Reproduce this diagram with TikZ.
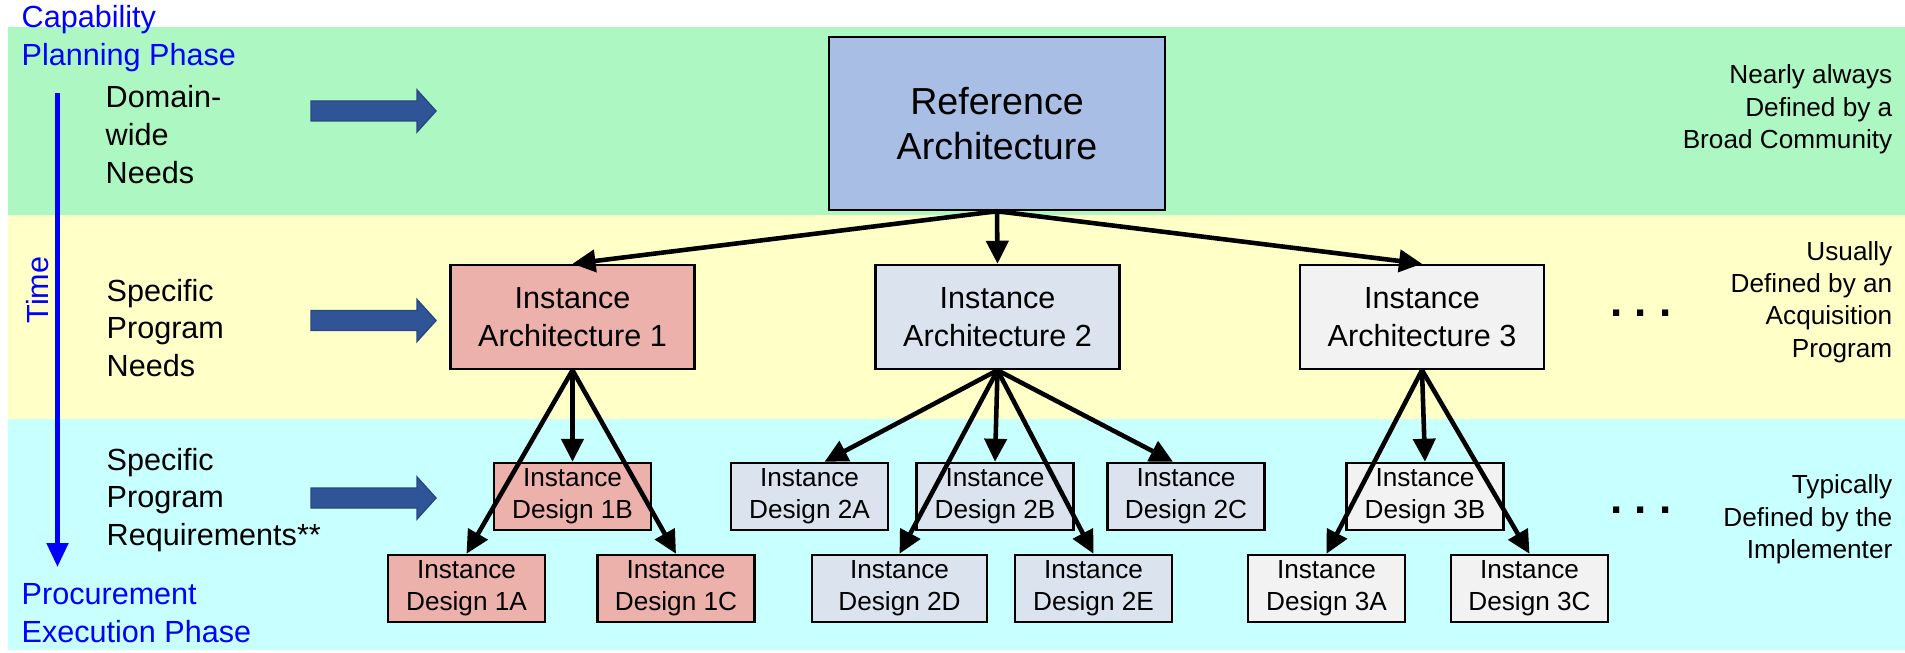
\documentclass[tikz,border=0pt]{standalone}
\usepackage{fontspec}
\setmainfont{Liberation Sans}
\usetikzlibrary{arrows.meta}

\definecolor{franjaverde}{RGB}{173,247,195}
\definecolor{franjaamarilla}{RGB}{255,255,200}
\definecolor{franjacian}{RGB}{200,255,255}
\definecolor{cajaref}{RGB}{169,190,228}
\definecolor{caja1}{RGB}{236,177,170}
\definecolor{caja2}{RGB}{218,227,238}
\definecolor{caja3}{RGB}{242,242,242}
\definecolor{flechaazul}{RGB}{47,85,151}

\begin{document}
\begin{tikzpicture}[
    caja/.style={draw=black, line width=0.7pt, inner sep=0pt, align=center},
    arq/.style={caja, minimum width=2.44cm, minimum height=1.04cm, font=\fontsize{8.7}{10.8}\selectfont},
    diseno/.style={caja, minimum width=1.57cm, minimum height=0.67cm, font=\fontsize{7.45}{9.1}\selectfont},
    flecha/.style={line width=1.3pt, -{Triangle[length=0.23cm, width=0.22cm]}},
    etiqueta/.style={anchor=west, align=left, inner sep=0pt, font=\fontsize{8.7}{10.7}\selectfont},
    nota/.style={anchor=east, align=right, inner sep=0pt, font=\fontsize{7.45}{9.2}\selectfont},
    puntos/.style={anchor=base, inner sep=0pt, font=\bfseries\fontsize{12.5}{14}\selectfont},
  ]
  \useasboundingbox (0,0) rectangle (19.05,6.52);

  % Franjas
  \fill[franjaverde] (0.08,4.37) rectangle (19.05,6.25);
  \fill[franjaamarilla] (0.08,2.33) rectangle (19.05,4.37);
  \fill[franjacian] (0.08,0.02) rectangle (19.05,2.33);

  % Fases y eje de tiempo
  \node[etiqueta, text=blue, font=\fontsize{8.7}{10.8}\selectfont] (planif) at (0.21,6.13) {Capability\\Planning Phase};
  \node[etiqueta, text=blue, font=\fontsize{8.7}{10.8}\selectfont] (ejec) at (0.21,0.385) {Procurement\\Execution Phase};
  \node[text=blue, rotate=90, inner sep=0pt, font=\fontsize{8.7}{10.8}\selectfont] (tiempo) at (0.38,3.62) {Time};
  \coordinate (tinicio) at (0.575,5.59);
  \coordinate (tfin) at (0.575,0.85);
  \draw[blue, line width=1.4pt, -{Triangle[length=0.24cm, width=0.21cm]}] (tinicio) -- (tfin);

  % Necesidades
  \node[etiqueta] (necdominio) at (1.05,5.175) {Domain-\\wide\\Needs};
  \node[etiqueta] (necprograma) at (1.06,3.24) {Specific\\Program\\Needs};
  \node[etiqueta] (reqprograma) at (1.06,1.52) {Specific\\Program\\Requirements**};

  % Flechas gruesas
  \foreach \y in {5.41,3.315,1.54}
    \filldraw[fill=flechaazul, draw=flechaazul!85!black, line width=0.4pt]
      (3.11,\y-0.10) -- (4.17,\y-0.10) -- (4.17,\y-0.21) -- (4.36,\y)
      -- (4.17,\y+0.21) -- (4.17,\y+0.10) -- (3.11,\y+0.10) -- cycle;

  % Arquitecturas
  \node[caja, fill=cajaref, minimum width=3.36cm, minimum height=1.73cm,
        font=\fontsize{10.7}{12.8}\selectfont] (ref) at (9.97,5.285) {Reference\\Architecture};
  \node[arq, fill=caja1] (ia1) at (5.725,3.35) {Instance\\Architecture 1};
  \node[arq, fill=caja2] (ia2) at (9.975,3.35) {Instance\\Architecture 2};
  \node[arq, fill=caja3] (ia3) at (14.22,3.35) {Instance\\Architecture 3};

  % Disenos
  \node[diseno, fill=caja1] (d1b) at (5.725,1.555) {Instance\\Design 1B};
  \node[diseno, fill=caja1] (d1a) at (4.665,0.635) {Instance\\Design 1A};
  \node[diseno, fill=caja1] (d1c) at (6.76,0.635) {Instance\\Design 1C};
  \node[diseno, fill=caja2] (d2a) at (8.095,1.555) {Instance\\Design 2A};
  \node[diseno, fill=caja2] (d2b) at (9.95,1.555) {Instance\\Design 2B};
  \node[diseno, fill=caja2] (d2c) at (11.86,1.555) {Instance\\Design 2C};
  \node[diseno, fill=caja2, minimum width=1.75cm] (d2d) at (8.995,0.635) {Instance\\Design 2D};
  \node[diseno, fill=caja2] (d2e) at (10.935,0.635) {Instance\\Design 2E};
  \node[diseno, fill=caja3] (d3b) at (14.25,1.555) {Instance\\Design 3B};
  \node[diseno, fill=caja3] (d3a) at (13.265,0.635) {Instance\\Design 3A};
  \node[diseno, fill=caja3] (d3c) at (15.295,0.635) {Instance\\Design 3C};

  % Conexiones
  \foreach \n in {1,2,3}
    \draw[flecha] (ref.south) -- (ia\n.north);
  \foreach \d in {a,b,c}
    \draw[flecha] (ia1.south) -- (d1\d.north);
  \draw[flecha] (ia2.south) -- ([xshift=0.15cm]d2a.north);
  \draw[flecha] (ia2.south) -- (d2b.north);
  \draw[flecha] (ia2.south) -- ([xshift=-0.13cm]d2c.north);
  \draw[flecha] (ia2.south) -- (d2d.north);
  \draw[flecha] (ia2.south) -- (d2e.north);
  \foreach \d in {a,b,c}
    \draw[flecha] (ia3.south) -- (d3\d.north);

  % Puntos suspensivos
  \node[puntos] (masarq) at (16.41,3.35) {.\ .\ .};
  \node[puntos] (masdis) at (16.41,1.39) {.\ .\ .};

  % Notas de la derecha
  \node[nota] (notaref) at (18.93,5.425) {Nearly always\\Defined by a\\Broad Community};
  \node[nota] (notaarq) at (18.93,3.50) {Usually\\Defined by an\\Acquisition\\Program};
  \node[nota] (notadis) at (18.93,1.325) {Typically\\Defined by the\\Implementer};
\end{tikzpicture}
\end{document}
